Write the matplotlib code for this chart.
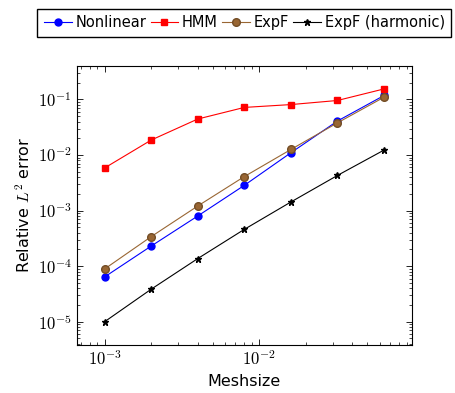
import matplotlib
matplotlib.use("Agg")
import matplotlib.pyplot as plt
from matplotlib.ticker import FuncFormatter, NullFormatter
import numpy as np

plt.rcParams["mathtext.fontset"] = "cm"
plt.rcParams["font.family"] = "DejaVu Sans"

# mesh sizes (halving)
h = [1e-3, 2e-3, 4e-3, 8e-3, 1.6e-2, 3.2e-2, 6.4e-2]

err_nonlinear = [6.4e-5, 2.3e-4, 8.0e-4, 2.85e-3, 1.1e-2, 4.1e-2, 0.118]
err_hmm = [5.85e-3, 1.86e-2, 4.45e-2, 7.2e-2, 8.1e-2, 9.6e-2, 0.155]
err_expf = [8.9e-5, 3.4e-4, 1.21e-3, 4.1e-3, 1.26e-2, 3.8e-2, 0.110]
err_harm = [1.0e-5, 3.85e-5, 1.37e-4, 4.6e-4, 1.43e-3, 4.3e-3, 1.23e-2]

labels = ["Nonlinear", "HMM", "ExpF", "ExpF (harmonic)"]

fig = plt.figure(figsize=(4.56, 3.93), dpi=100)
ax = fig.add_axes([0.168, 0.122, 0.7355, 0.711])

ax.plot(h, err_nonlinear, color="blue", marker="o", ms=5, lw=0.8, label=labels[0])
ax.plot(h, err_hmm, color="red", marker="s", ms=5, lw=0.8, label=labels[1])
ax.plot(h, err_expf, color=(0.6, 0.4, 0.2), marker="o", ms=5.5, lw=0.8,
        mfc=(0.6, 0.4, 0.2), mec=(0.45, 0.3, 0.15), label=labels[2])
ax.plot(h, err_harm, color="black", marker="*", ms=5, lw=0.8, label=labels[3])

ax.set_xscale("log")
ax.set_yscale("log")

# pgfplots-style 10% enlargement in log space
lx = np.log10([h[0], h[-1]])
dx = 0.1 * (lx[1] - lx[0])
ax.set_xlim(10 ** (lx[0] - dx), 10 ** (lx[1] + dx))
ly = np.log10([min(err_harm), max(err_hmm)])
dy = 0.1 * (ly[1] - ly[0])
ax.set_ylim(10 ** (ly[0] - dy), 10 ** (ly[1] + dy))

pow_fmt = FuncFormatter(lambda v, pos: r"$10^{%d}$" % round(np.log10(v)))
for axis in (ax.xaxis, ax.yaxis):
    axis.set_major_formatter(pow_fmt)
    axis.set_minor_formatter(NullFormatter())

ax.tick_params(which="both", direction="in", top=True, right=True, labelsize=12)
ax.tick_params(which="major", length=4, width=0.6)
ax.tick_params(which="minor", length=2.5, width=0.5)
for s in ax.spines.values():
    s.set_linewidth(0.8)

ax.set_xlabel("Meshsize", fontsize=11.5)
ax.set_ylabel("Relative $L^2$ error", fontsize=11.5)

fig.legend(loc="upper right", bbox_to_anchor=(0.996, 0.985), ncol=4, fontsize=10.5,
           frameon=True, fancybox=False, edgecolor="black", framealpha=1,
           handlelength=1.9, handletextpad=0.25, columnspacing=0.3,
           borderpad=0.45, borderaxespad=0.2)

fig.savefig("out.png", dpi=100)
